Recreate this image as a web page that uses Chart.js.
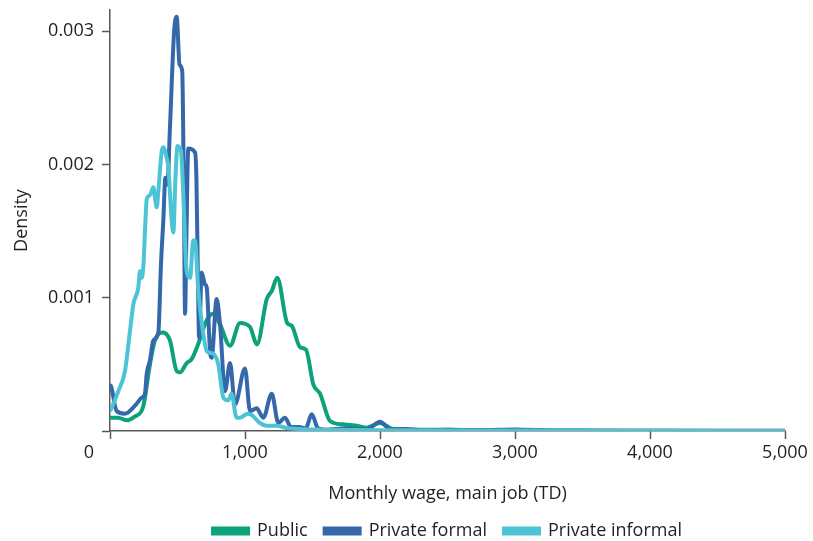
<!DOCTYPE html>
<html>
<head>
<meta charset="utf-8">
<script src="https://cdn.jsdelivr.net/npm/chart.js@4"></script>
<style>
  body { margin: 0; background: #fff; }
</style>
</head>
<body>
<canvas id="myChart" width="813" height="541"></canvas>
<script>
// monthly wage (TD) and density
const publicWage = [0, 60, 125, 185, 245, 296, 333, 393, 444, 494, 519, 568, 605, 652, 716, 763, 815, 889, 963, 1037, 1089, 1161, 1198, 1239, 1313, 1346, 1407, 1452, 1506, 1556, 1630, 1726, 1827, 1901, 2000, 2096, 2300, 2600, 3000, 3500, 4000, 5000];
const publicDensity = [0.0001, 0.0001, 0.00008, 0.00011, 0.00018, 0.0005, 0.00068, 0.00074, 0.00068, 0.00045, 0.00044, 0.00051, 0.00054, 0.00065, 0.00083, 0.00088, 0.0008, 0.00064, 0.00081, 0.00078, 0.00065, 0.00099, 0.00105, 0.00115, 0.00081, 0.00079, 0.00063, 0.00061, 0.00035, 0.00028, 0.000075, 0.00005, 0.00004, 0.000025, 0.00006, 0.000015, 0.00001, 0.000008, 0.000005, 0.000003, 0.000001, 0];

const formalWage = [0, 10, 49, 111, 185, 235, 259, 272, 296, 321, 358, 378, 395, 410, 425, 445, 475, 494, 515, 535, 548, 556, 565, 580, 630, 640, 652, 660, 679, 704, 716, 741, 753, 790, 815, 852, 889, 926, 1000, 1037, 1086, 1136, 1198, 1247, 1296, 1340, 1400, 1450, 1494, 1541, 1600, 1750, 1900, 2000, 2080, 2185, 2350, 2500, 2750, 3000, 3300, 4000, 5000];
const formalDensity = [0.00035, 0.00033, 0.00015, 0.00013, 0.00019, 0.00025, 0.00028, 0.00043, 0.00053, 0.00068, 0.00074, 0.00126, 0.00158, 0.0019, 0.00185, 0.0023, 0.003, 0.00311, 0.00275, 0.0027, 0.0017, 0.00088, 0.0014, 0.00212, 0.00209, 0.0019, 0.0011, 0.0007, 0.00119, 0.0011, 0.00108, 0.0006, 0.00055, 0.00099, 0.0008, 0.0003, 0.00051, 0.0002, 0.00047, 0.00015, 0.00017, 0.0001, 0.00028, 0.00006, 0.0001, 0.00003, 0.00003, 0.00002, 0.000125, 0.00002, 0.00001, 0.00002, 0.00001, 0.00007, 0.00001, 0.000015, 0.000005, 0.00001, 0.000005, 0.000012, 0.000003, 0.000002, 0.000001];

const informalWage = [0, 13, 62, 111, 148, 173, 210, 222, 235, 248, 259, 272, 296, 321, 333, 346, 358, 383, 395, 420, 432, 457, 469, 485, 500, 526, 540, 568, 593, 617, 630, 654, 691, 716, 765, 802, 840, 877, 900, 938, 963, 1020, 1050, 1111, 1160, 1235, 1300, 1400, 1600, 2000, 3000, 4000, 5000];
const informalDensity = [0.00015, 0.000175, 0.0003, 0.00045, 0.00075, 0.00095, 0.00108, 0.0012, 0.00115, 0.00125, 0.0015, 0.00174, 0.00177, 0.00183, 0.00175, 0.00168, 0.0018, 0.0021, 0.00213, 0.00205, 0.00198, 0.00158, 0.00149, 0.0019, 0.00214, 0.0021, 0.00185, 0.0012, 0.00115, 0.00143, 0.00143, 0.00105, 0.00073, 0.0006, 0.00058, 0.0005, 0.00025, 0.00023, 0.00028, 0.0001, 0.0001, 0.00013, 0.00012, 0.00006, 0.00004, 0.00004, 0.000025, 0.000015, 0.00001, 0.000005, 0.000003, 0.000002, 0.000001];

const seriesNames = ['Public', 'Private formal', 'Private informal'];
const xTicks = [0, 1000, 2000, 3000, 4000, 5000];
const yTicks = [0, 0.001, 0.002, 0.003];

const toPoints = (xs, ys) => xs.map((x, i) => ({ x: x, y: ys[i] }));

Chart.defaults.font.family = "'Open Sans', sans-serif";
Chart.defaults.font.size = 18;
Chart.defaults.color = '#231f20';

// the lone "0" sits under the y labels, left of the corner
const zeroLabel = {
  id: 'zeroLabel',
  afterDraw(chart) {
    const c = chart.ctx;
    c.save();
    c.font = "18px 'Open Sans', sans-serif";
    c.fillStyle = '#231f20';
    c.textAlign = 'right';
    c.textBaseline = 'middle';
    c.fillText('0', chart.scales.y.right - 16, chart.scales.x.top + 22);
    c.restore();
  }
};

const ctx = document.getElementById('myChart');
new Chart(ctx, {
  type: 'line',
  data: {
    datasets: [{
      label: seriesNames[0],
      data: toPoints(publicWage, publicDensity),
      borderColor: '#0ca27a',
      backgroundColor: '#0ca27a',
      order: 3
    }, {
      label: seriesNames[1],
      data: toPoints(formalWage, formalDensity),
      borderColor: '#3567ab',
      backgroundColor: '#3567ab',
      order: 2
    }, {
      label: seriesNames[2],
      data: toPoints(informalWage, informalDensity),
      borderColor: '#4cc4d6',
      backgroundColor: '#4cc4d6',
      order: 1
    }]
  },
  options: {
    responsive: false,
    animation: false,
    devicePixelRatio: 1,
    layout: { padding: { top: 10, right: 28, left: 0, bottom: -9 } },
    elements: {
      point: { radius: 0 },
      line: { borderWidth: 4, cubicInterpolationMode: 'monotone', fill: false }
    },
    plugins: {
      tooltip: { enabled: false },
      legend: {
        position: 'bottom',
        fullSize: false,
        labels: {
          boxWidth: 35,
          boxHeight: 5,
          padding: 17,
          sort: (a, b) => a.datasetIndex - b.datasetIndex
        }
      }
    },
    scales: {
      x: {
        type: 'linear',
        min: 0,
        max: 5000,
        afterFit: (scale) => { scale.height = 74; scale.paddingLeft = 0; scale.paddingRight = 0; },
        afterBuildTicks: (scale) => { scale.ticks = xTicks.map(v => ({ value: v })); },
        ticks: {
          padding: 3,
          callback: (v) => v === 0 ? '' : v.toLocaleString('en-US')
        },
        grid: { drawOnChartArea: false, drawTicks: true, tickLength: 8, tickColor: '#58595b', tickWidth: 1.5 },
        border: { display: true, color: '#58595b', width: 1.5 },
        title: { display: true, text: 'Monthly wage, main job (TD)', padding: { top: 0, bottom: 0 } }
      },
      y: {
        min: 0,
        max: 0.00316,
        afterFit: (scale) => { scale.width = 110; scale.paddingTop = 0; scale.paddingBottom = 0; },
        afterBuildTicks: (scale) => { scale.ticks = yTicks.map(v => ({ value: v })); },
        ticks: {
          padding: 8,
          callback: (v) => v === 0 ? '' : v.toFixed(3)
        },
        grid: { drawOnChartArea: false, drawTicks: true, tickLength: 8, tickColor: '#58595b', tickWidth: 1.5 },
        border: { display: true, color: '#58595b', width: 1.5 },
        title: { display: true, text: 'Density', padding: { top: 11, bottom: 0 } }
      }
    }
  },
  plugins: [zeroLabel]
});
</script>
</body>
</html>
